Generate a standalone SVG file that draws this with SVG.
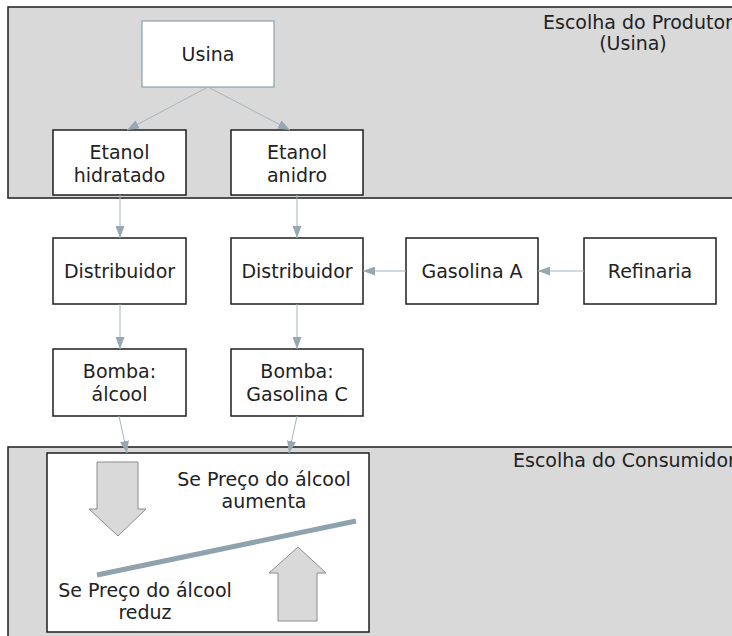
<svg xmlns="http://www.w3.org/2000/svg" width="732" height="636" viewBox="0 0 732 636">
<defs>
<style>
text{font-family:"DejaVu Sans",Verdana,sans-serif;font-size:19px;fill:#222}
.panel{fill:#d9d9d9;stroke:#2a2a2a;stroke-width:1.6}
.box{fill:#fff;stroke:#1e1e1e;stroke-width:1.5}
.lbox{fill:#fff;stroke:#7f8f9a;stroke-width:1}
.c text{text-anchor:middle}
.conn{fill:none;stroke:#a7b4bc;stroke-width:1;marker-end:url(#ah)}
.blk{fill:#d9d9d9;stroke:#8c8c8c;stroke-width:1}
</style>
<marker id="ah" markerUnits="userSpaceOnUse" markerWidth="12" markerHeight="9" refX="12" refY="4.5" orient="auto">
<path d="M0,0 L12,4.5 L0,9 z" fill="#97a8b2"/>
</marker>
</defs>
<g id="panel-produtor">
<rect class="panel" x="8" y="7" width="740" height="191"/>
<text x="543" y="29">Escolha do Produtor</text>
<text x="633" y="50" text-anchor="middle">(Usina)</text>
</g>
<g id="panel-consumidor">
<rect class="panel" x="8" y="447" width="740" height="200"/>
<text x="513" y="467">Escolha do Consumidor</text>
</g>
<g id="usina" class="c"><rect class="lbox" x="142" y="21" width="132" height="66"/><text x="208" y="61">Usina</text></g>
<g id="etanol-hidratado" class="c"><rect class="box" x="53" y="130" width="133" height="65"/><text x="119.5" y="159">Etanol</text><text x="119.5" y="182">hidratado</text></g>
<g id="etanol-anidro" class="c"><rect class="box" x="231" y="130" width="132" height="65"/><text x="297" y="159">Etanol</text><text x="297" y="182">anidro</text></g>
<g id="distribuidor-1" class="c"><rect class="box" x="53" y="238" width="133" height="66"/><text x="119.5" y="278">Distribuidor</text></g>
<g id="distribuidor-2" class="c"><rect class="box" x="231" y="238" width="132" height="66"/><text x="297" y="278">Distribuidor</text></g>
<g id="gasolina-a" class="c"><rect class="box" x="406" y="238" width="132" height="66"/><text x="472" y="278">Gasolina A</text></g>
<g id="refinaria" class="c"><rect class="box" x="584" y="238" width="132" height="66"/><text x="650" y="278">Refinaria</text></g>
<g id="bomba-alcool" class="c"><rect class="box" x="53" y="349" width="133" height="67"/><text x="119.5" y="378">Bomba:</text><text x="119.5" y="401">álcool</text></g>
<g id="bomba-gasolina" class="c"><rect class="box" x="231" y="349" width="132" height="67"/><text x="297" y="378">Bomba:</text><text x="297" y="401">Gasolina C</text></g>
<g id="consumidor-box">
<rect class="box" x="47" y="453" width="322" height="179"/>
<path class="blk" d="M97,462 H138 V509 H146 L118,536 L89,509 H97 Z"/>
<path class="blk" d="M278,621 V573 H269 L298,547 L326,573 H317 V621 Z"/>
<line x1="97" y1="575" x2="356" y2="521" stroke="#8fa2ad" stroke-width="5"/>
<text x="264" y="486" text-anchor="middle">Se Preço do álcool</text>
<text x="264" y="508" text-anchor="middle">aumenta</text>
<text x="145" y="597" text-anchor="middle">Se Preço do álcool</text>
<text x="145" y="619" text-anchor="middle">reduz</text>
</g>
<g id="connectors">
<line class="conn" x1="208" y1="87" x2="127" y2="130"/>
<line class="conn" x1="208" y1="87" x2="290" y2="130"/>
<line class="conn" x1="120" y1="195" x2="120" y2="238"/>
<line class="conn" x1="297" y1="195" x2="297" y2="238"/>
<line class="conn" x1="120" y1="304" x2="120" y2="349"/>
<line class="conn" x1="297" y1="304" x2="297" y2="349"/>
<line class="conn" x1="406" y1="271" x2="363" y2="271"/>
<line class="conn" x1="584" y1="271" x2="538" y2="271"/>
<line class="conn" x1="119" y1="416" x2="127" y2="453"/>
<line class="conn" x1="297" y1="416" x2="289" y2="453"/>
</g>
</svg>
